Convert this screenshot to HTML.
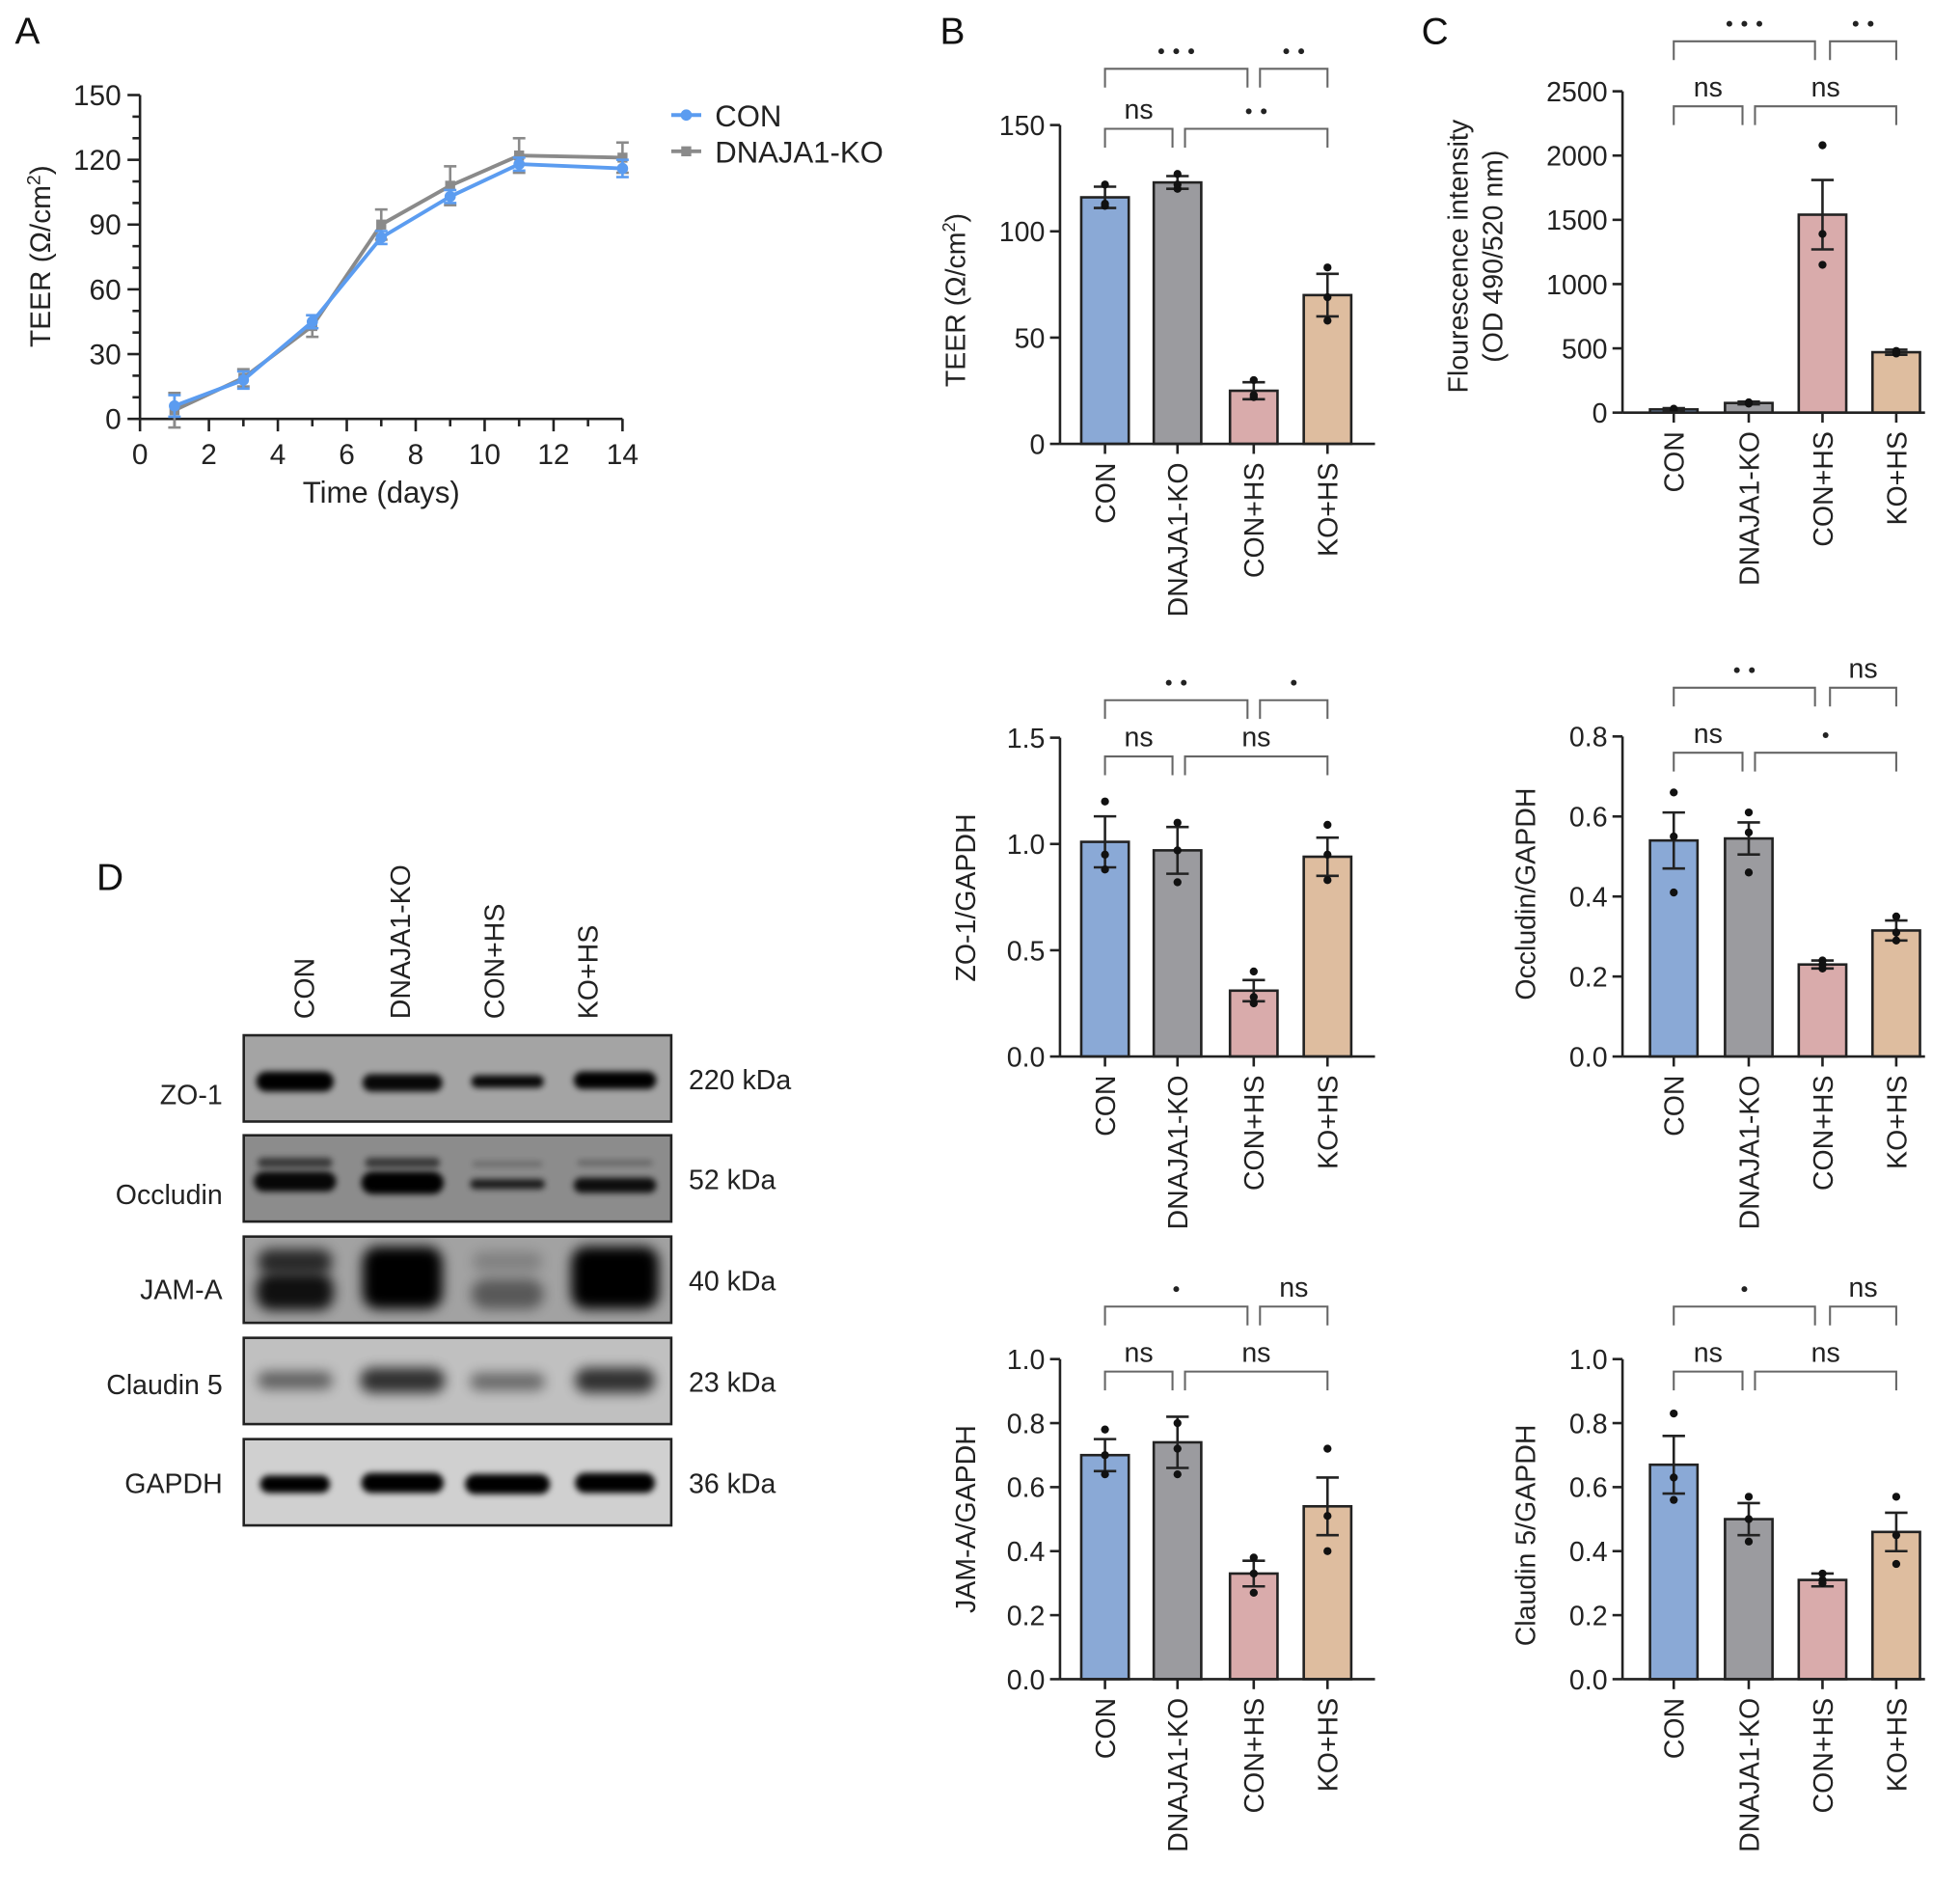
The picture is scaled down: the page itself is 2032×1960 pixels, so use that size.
<!DOCTYPE html>
<html><head><meta charset="utf-8"><style>
html,body{margin:0;padding:0;background:#fff}
svg{display:block;font-family:"Liberation Sans",sans-serif}
</style></head><body>
<svg id="fig" xmlns="http://www.w3.org/2000/svg" width="2032" height="1960" viewBox="0 0 1568 1512.4">
<defs>
<filter id="blur3" x="-50%" y="-100%" width="200%" height="300%"><feGaussianBlur stdDeviation="2.5"/></filter>
<filter id="blur6" x="-50%" y="-100%" width="200%" height="300%"><feGaussianBlur stdDeviation="5"/></filter>
</defs>
<g id="root"></g>
</svg>
<script>
// ---------- Panel A data ----------
const daysA = [1, 3, 5, 7, 9, 11, 14];
const conA = [6, 18, 45, 84, 103, 118, 116];
const conErrA = [5, 4, 3, 3, 3, 3, 4];
const koA = [4, 19, 43, 90, 108, 122, 121];
const koErrA = [8, 4, 5, 7, 9, 8, 7];
const xTicksA = [0, 2, 4, 6, 8, 10, 12, 14];
const yTicksA = [0, 30, 60, 90, 120, 150];

// ---------- Bar panels data ----------
const groups = ["CON", "DNAJA1-KO", "CON+HS", "KO+HS"];
const teerVals = [116, 123, 25, 70];
const teerErr = [5, 3, 4, 10];
const teerPts = [[122, 112, 113], [127, 120, 122], [30, 22, 23], [83, 58, 69]];
const teerTicks = [0, 50, 100, 150];
const fluoVals = [25, 75, 1540, 470];
const fluoErr = [10, 10, 270, 20];
const fluoPts = [[30, 20, 25], [80, 70, 75], [2080, 1150, 1390], [480, 460, 470]];
const fluoTicks = [0, 500, 1000, 1500, 2000, 2500];
const zoVals = [1.01, 0.97, 0.31, 0.94];
const zoErr = [0.12, 0.11, 0.05, 0.09];
const zoPts = [[1.2, 0.95, 0.88], [1.1, 0.97, 0.82], [0.4, 0.28, 0.25], [1.09, 0.95, 0.83]];
const zoTicks = [0.0, 0.5, 1.0, 1.5];
const ocVals = [0.54, 0.545, 0.23, 0.315];
const ocErr = [0.07, 0.04, 0.01, 0.025];
const ocPts = [[0.66, 0.55, 0.41], [0.61, 0.56, 0.46], [0.24, 0.23, 0.22], [0.35, 0.31, 0.29]];
const ocTicks = [0.0, 0.2, 0.4, 0.6, 0.8];
const jamVals = [0.70, 0.74, 0.33, 0.54];
const jamErr = [0.05, 0.08, 0.04, 0.09];
const jamPts = [[0.78, 0.7, 0.64], [0.8, 0.72, 0.64], [0.38, 0.33, 0.27], [0.72, 0.51, 0.4]];
const cldVals = [0.67, 0.50, 0.31, 0.46];
const cldErr = [0.09, 0.05, 0.02, 0.06];
const cldPts = [[0.83, 0.63, 0.56], [0.57, 0.5, 0.43], [0.33, 0.31, 0.3], [0.57, 0.45, 0.36]];
const unitTicks = [0.0, 0.2, 0.4, 0.6, 0.8, 1.0];

// ---------- Western blot data ----------
const blotProteins = ["ZO-1", "Occludin", "JAM-A", "Claudin 5", "GAPDH"];
const blotKda = ["220 kDa", "52 kDa", "40 kDa", "23 kDa", "36 kDa"];

const NS = "http://www.w3.org/2000/svg";
const root = document.getElementById("root");
const colors = ["#8aa9d6", "#9b9b9f", "#d9abab", "#debd9f"];

function mk(tag, attrs, parent, text) {
  const e = document.createElementNS(NS, tag);
  for (const k in attrs) e.setAttribute(k, attrs[k]);
  if (text !== undefined) e.textContent = text;
  (parent || root).appendChild(e);
  return e;
}
function line(x1, y1, x2, y2, p, w, c) {
  return mk("line", {x1, y1, x2, y2, stroke: c || "#222", "stroke-width": w || 2}, p);
}

// ---------- Panel letters ----------
[["A", 22, 35], ["B", 762, 35], ["C", 1148, 35], ["D", 88, 712]].forEach(l => {
  const t = mk("text", {x: l[1], y: l[2], "font-size": 30, "text-anchor": "middle", fill: "#111"}, root, l[0]);
  
  
});

// ---------- Panel A ----------
(function () {
  const g = mk("g", {});
  
  
  const X0 = 112, X1 = 498, Y0 = 335, Y1 = 76;
  const sx = v => X0 + (v - 0) / 14 * (X1 - X0);
  const sy = v => Y0 - v / 150 * (Y0 - Y1);
  line(X0, Y0, X0, Y1, g);
  line(X0, Y0, X1, Y0, g);
  for (let v = 0; v <= 150; v += 10) line(X0, sy(v), X0 - (v % 30 === 0 ? 10 : 6), sy(v), g, 2);
  for (let d = 0; d <= 14; d++) line(sx(d), Y0, sx(d), Y0 + (d % 2 === 0 ? 10 : 6), g, 2);
  yTicksA.forEach(v => {
    const t = mk("text", {x: X0 - 15, y: sy(v) + 8, "font-size": 23, "text-anchor": "end", fill: "#222"}, g, v);
    
    
  });
  xTicksA.forEach(v => {
    const t = mk("text", {x: sx(v), y: Y0 + 36, "font-size": 23, "text-anchor": "middle", fill: "#222"}, g, v);
    
    
  });
  const xt = mk("text", {x: 305, y: 402, "font-size": 24, "text-anchor": "middle", fill: "#222"}, g, "Time (days)");
  
  
  const yt = mk("text", {x: 0, y: 0, "font-size": 23, "text-anchor": "middle", fill: "#222", transform: "translate(40,205) rotate(-90)"}, g);
  yt.innerHTML = 'TEER (Ω/cm<tspan dy="-8" font-size="15">2</tspan><tspan dy="8">)</tspan>';
  
  
  function series(vals, errs, col, name, sq) {
    const sg = mk("g", {}, g);
    
    
    vals.forEach((v, i) => {
      line(sx(daysA[i]), sy(v - errs[i]), sx(daysA[i]), sy(v + errs[i]), sg, 2, col);
      line(sx(daysA[i]) - 5, sy(v + errs[i]), sx(daysA[i]) + 5, sy(v + errs[i]), sg, 2, col);
      line(sx(daysA[i]) - 5, sy(v - errs[i]), sx(daysA[i]) + 5, sy(v - errs[i]), sg, 2, col);
    });
    mk("polyline", {points: vals.map((v, i) => sx(daysA[i]) + "," + sy(v)).join(" "), fill: "none", stroke: col, "stroke-width": 3}, sg);
    vals.forEach((v, i) => {
      if (sq) mk("rect", {x: sx(daysA[i]) - 4, y: sy(v) - 4, width: 8, height: 8, fill: col}, sg);
      else mk("circle", {cx: sx(daysA[i]), cy: sy(v), r: 4.5, fill: col}, sg);
    });
  }
  series(koA, koErrA, "#8a8a8a", "series-dnaja1-ko", true);
  series(conA, conErrA, "#5b9cf0", "series-con", false);
  const lg = mk("g", {}, g);
  
  
  line(537, 92, 561, 92, lg, 3, "#5b9cf0"); mk("circle", {cx: 549, cy: 92, r: 4.5, fill: "#5b9cf0"}, lg);
  mk("text", {x: 572, y: 101, "font-size": 24, fill: "#222"}, lg, "CON");
  line(537, 121, 561, 121, lg, 3, "#8a8a8a"); mk("rect", {x: 545, y: 117, width: 8, height: 8, fill: "#8a8a8a"}, lg);
  mk("text", {x: 572, y: 130, "font-size": 24, fill: "#222"}, lg, "DNAJA1-KO");
})();

// ---------- Bar panels ----------
function barPanel(cfg) {
  const g = mk("g", {});
  
  
  const ax = cfg.ax, Y0 = cfg.y0, Y1 = cfg.y1, max = cfg.ticks[cfg.ticks.length - 1];
  const cx = cfg.cx;
  const sy = v => Y0 - v / max * (Y0 - Y1);
  const bw = 38;
  cfg.vals.forEach((v, i) => {
    const r = mk("rect", {x: cx[i] - bw / 2, y: sy(v), width: bw, height: Y0 - sy(v), fill: colors[i], stroke: "#222", "stroke-width": 2}, g);
    
    
  });
  cfg.vals.forEach((v, i) => {
    const e = cfg.err[i];
    line(cx[i], sy(v - e), cx[i], sy(v + e), g, 2);
    line(cx[i] - 9, sy(v + e), cx[i] + 9, sy(v + e), g, 2);
    line(cx[i] - 9, sy(v - e), cx[i] + 9, sy(v - e), g, 2);
    cfg.pts[i].forEach(p => {
      const c = mk("circle", {cx: cx[i], cy: sy(p), r: 3.2, fill: "#111"}, g);
      
      
    });
  });
  line(ax, Y0, ax, Y1, g);
  line(ax, Y0, cfg.xEnd, Y0, g);
  cfg.ticks.forEach(v => {
    line(ax, sy(v), ax - 8, sy(v), g);
    const t = mk("text", {x: ax - 12, y: sy(v) + 8, "font-size": 22, "text-anchor": "end", fill: "#222"}, g, cfg.fmt ? v.toFixed(1) : v);
    
    
  });
  groups.forEach((gname, i) => {
    line(cx[i], Y0, cx[i], Y0 + 8, g);
    const t = mk("text", {x: 0, y: 0, "font-size": 22, "text-anchor": "end", fill: "#222", transform: `translate(${cx[i] + 8},${Y0 + 15}) rotate(-90)`}, g, gname);
    
    
  });
  cfg.ytitle.forEach((tt, k) => {
    const t = mk("text", {x: 0, y: 0, "font-size": 22, "text-anchor": "middle", fill: "#222", transform: `translate(${cfg.ytx + k * 28},${cfg.yty}) rotate(-90)`}, g);
    t.innerHTML = tt;
    
    
  });
  cfg.br.forEach(b => {
    const bg = mk("g", {}, g);
    
    
    const yTop = b[2] === 0 ? cfg.b0 : cfg.b1;
    const x1 = cx[b[0]] + (b[4] || 0), x2 = cx[b[1]] + (b[5] || 0);
    mk("polyline", {points: `${x1},${yTop + 15} ${x1},${yTop} ${x2},${yTop} ${x2},${yTop + 15}`, fill: "none", stroke: "#666", "stroke-width": 1.6}, bg);
    const lab = b[3];
    if (lab === "ns") mk("text", {x: (x1 + x2) / 2, y: yTop - 8, "font-size": 22, "text-anchor": "middle", fill: "#222"}, bg, "ns");
    else {
      const n = lab.length;
      for (let k = 0; k < n; k++) mk("circle", {cx: (x1 + x2) / 2 + (k - (n - 1) / 2) * 12, cy: yTop - 14, r: 2.3, fill: "#222"}, bg);
    }
  });
}
const cxB = [884, 942, 1003, 1062], cxC = [1339, 1399, 1458, 1517];
barPanel({name: "panel-b-teer-bars", ax: 848, xEnd: 1100, y0: 355, y1: 100, ticks: teerTicks, cx: cxB, vals: teerVals, err: teerErr, pts: teerPts,
  ytitle: ['TEER (Ω/cm<tspan dy="-8" font-size="14">2</tspan><tspan dy="8">)</tspan>'], ytx: 772, yty: 240, b0: 55, b1: 103,
  br: [[0, 2, 0, "***", 0, -5], [2, 3, 0, "**", 5, 0], [0, 1, 1, "ns", 0, -4], [1, 3, 1, "**", 6, 0]]});
barPanel({name: "panel-c-fluorescence-bars", ax: 1298, xEnd: 1540, y0: 330, y1: 73, ticks: fluoTicks, cx: cxC, vals: fluoVals, err: fluoErr, pts: fluoPts,
  ytitle: ["Flourescence intensity", "(OD 490/520 nm)"], ytx: 1174, yty: 205, b0: 33, b1: 85,
  br: [[0, 2, 0, "***", 0, -6], [2, 3, 0, "**", 6, 0], [0, 1, 1, "ns", 0, -5], [1, 3, 1, "ns", 5, 0]]});
barPanel({name: "panel-zo1-bars", ax: 848, xEnd: 1100, y0: 845, y1: 590, ticks: zoTicks, fmt: true, cx: cxB, vals: zoVals, err: zoErr, pts: zoPts,
  ytitle: ["ZO-1/GAPDH"], ytx: 780, yty: 718, b0: 560, b1: 605,
  br: [[0, 2, 0, "**", 0, -5], [2, 3, 0, "*", 5, 0], [0, 1, 1, "ns", 0, -4], [1, 3, 1, "ns", 6, 0]]});
barPanel({name: "panel-occludin-bars", ax: 1298, xEnd: 1540, y0: 845, y1: 589, ticks: ocTicks, fmt: true, cx: cxC, vals: ocVals, err: ocErr, pts: ocPts,
  ytitle: ["Occludin/GAPDH"], ytx: 1228, yty: 715, b0: 550, b1: 602,
  br: [[0, 2, 0, "**", 0, -6], [2, 3, 0, "ns", 6, 0], [0, 1, 1, "ns", 0, -5], [1, 3, 1, ".", 5, 0]]});
barPanel({name: "panel-jama-bars", ax: 848, xEnd: 1100, y0: 1343, y1: 1087, ticks: unitTicks, fmt: true, cx: cxB, vals: jamVals, err: jamErr, pts: jamPts,
  ytitle: ["JAM-A/GAPDH"], ytx: 780, yty: 1215, b0: 1045, b1: 1097,
  br: [[0, 2, 0, "*", 0, -5], [2, 3, 0, "ns", 5, 0], [0, 1, 1, "ns", 0, -4], [1, 3, 1, "ns", 6, 0]]});
barPanel({name: "panel-claudin5-bars", ax: 1298, xEnd: 1540, y0: 1343, y1: 1087, ticks: unitTicks, fmt: true, cx: cxC, vals: cldVals, err: cldErr, pts: cldPts,
  ytitle: ["Claudin 5/GAPDH"], ytx: 1228, yty: 1228, b0: 1045, b1: 1097,
  br: [[0, 2, 0, "*", 0, -6], [2, 3, 0, "ns", 6, 0], [0, 1, 1, "ns", 0, -5], [1, 3, 1, "ns", 5, 0]]});

// ---------- Panel D western blot ----------
(function () {
  const g = mk("g", {});
  
  
  const lanes = [236, 322, 406, 492];
  const heads = [243, 320, 395, 470];
  groups.forEach((h, i) => {
    const t = mk("text", {x: 0, y: 0, "font-size": 22, "text-anchor": "start", fill: "#222", transform: `translate(${heads[i] + 8},${815}) rotate(-90)`}, g, h);
    
    
  });
  const rowsY = [828, 908, 989, 1070, 1151];
  const bgs = ["#a4a4a4", "#8c8c8c", "#a2a2a2", "#c0c0c0", "#d0d0d0"];
  // [lane, centerY, halfWidth, halfHeight, opacity, blur]
  const bands = [
    [[0, 37, 31, 8, 1, 3], [1, 38, 32, 7, 0.95, 3], [2, 37, 29, 5, 0.95, 3], [3, 36, 33, 7, 1, 3]],
    [[0, 37, 33, 8, 0.95, 3], [1, 38, 33, 9, 1, 3], [2, 39, 30, 4, 0.8, 3], [3, 40, 33, 6, 0.9, 3], [0, 22, 30, 4, 0.6, 3], [1, 22, 30, 4, 0.6, 3], [2, 23, 28, 2, 0.25, 3], [3, 22, 30, 2, 0.3, 3]],
    [[0, 44, 31, 15, 0.9, 4], [0, 20, 30, 10, 0.75, 4], [1, 33, 32, 25, 1, 4], [2, 46, 29, 12, 0.45, 5], [2, 20, 28, 8, 0.2, 5], [3, 33, 35, 25, 1, 4]],
    [[0, 34, 30, 7, 0.5, 6], [1, 34, 34, 10, 0.75, 6], [2, 35, 30, 7, 0.45, 6], [3, 34, 32, 10, 0.75, 6]],
    [[0, 36, 28, 7, 1, 3], [1, 35, 33, 8, 1, 3], [2, 36, 34, 8, 1, 3], [3, 35, 32, 8, 1, 3]]
  ];
  const defs = document.querySelector("defs");
  blotProteins.forEach((p, r) => {
    const y = rowsY[r];
    const cp = mk("clipPath", {id: "clip" + r}, defs);
    mk("rect", {x: 195, y: y, width: 342, height: 69}, cp);
    const rg = mk("g", {"clip-path": `url(#clip${r})`}, g);
    
    
    mk("rect", {x: 195, y: y, width: 342, height: 69, fill: bgs[r]}, rg);
    bands[r].forEach(b => {
      mk("rect", {x: lanes[b[0]] - b[2], y: y + b[1] - b[3], width: 2 * b[2], height: 2 * b[3], rx: Math.min(b[3], 12), fill: "#000", opacity: b[4], filter: b[5] > 3 ? "url(#blur6)" : "url(#blur3)"}, rg);
    });
    mk("rect", {x: 195, y: y, width: 342, height: 69, fill: "none", stroke: "#222", "stroke-width": 2}, g);
    const t = mk("text", {x: 178, y: y + 55 - (r === 4 ? 12 : 0) - (r === 3 ? 10 : 0) - (r === 2 ? 5 : 0), "font-size": 22, "text-anchor": "end", fill: "#222"}, g, p);
    
    
    const k = mk("text", {x: 551, y: y + 43, "font-size": 22, fill: "#222"}, g, blotKda[r]);
    
    
  });
})();
</script>
</body></html>
